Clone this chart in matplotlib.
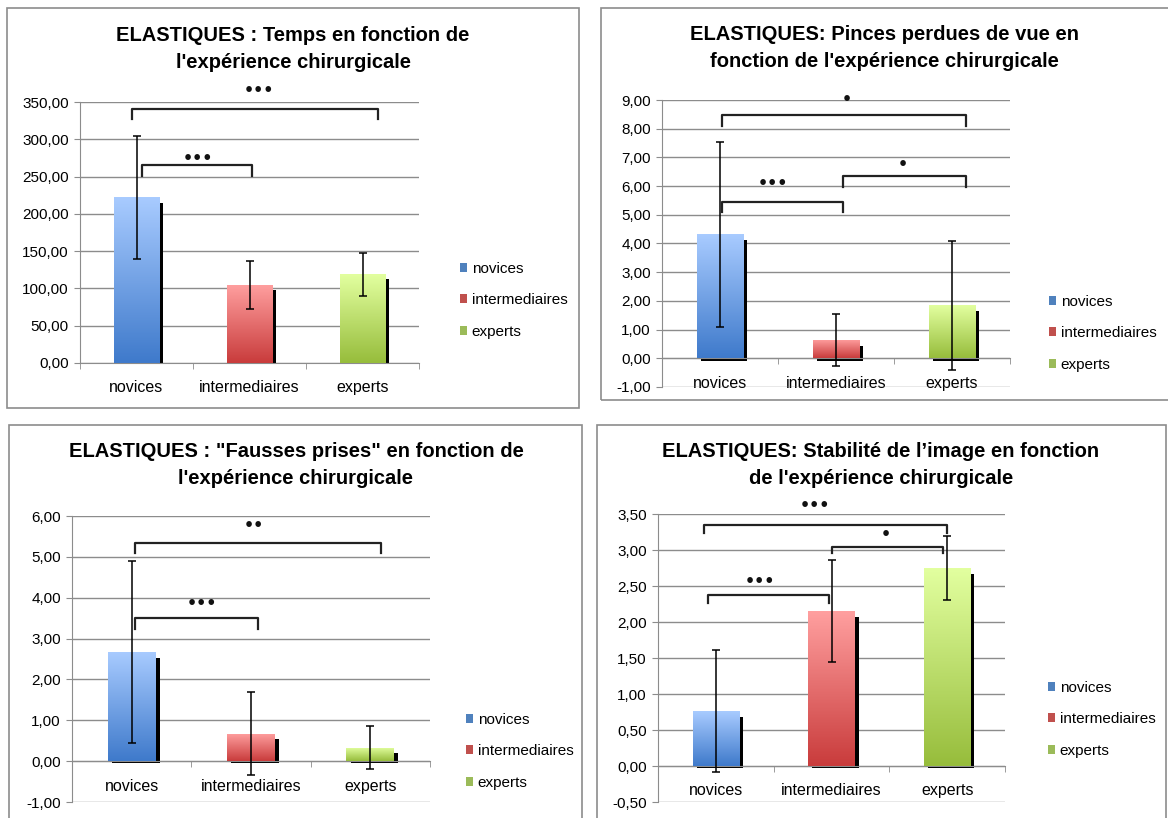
import numpy as np
import matplotlib
matplotlib.use("Agg")
import matplotlib.pyplot as plt
from matplotlib.patches import Rectangle, Patch
from matplotlib.colors import LinearSegmentedColormap
from matplotlib.ticker import FuncFormatter

plt.rcParams['font.family'] = ['Liberation Sans', 'DejaVu Sans']

categories = ["novices", "intermediaires", "experts"]

titles = [
    "ELASTIQUES : Temps en fonction de\nl'expérience chirurgicale",
    "ELASTIQUES: Pinces perdues de vue en\nfonction de l'expérience chirurgicale",
    "ELASTIQUES : \"Fausses prises\" en fonction de\nl'expérience chirurgicale",
    "ELASTIQUES: Stabilité de l\u2019image en fonction\nde l'expérience chirurgicale",
]

temps_mean = [222, 105, 119]
temps_err = [82, 32, 29]
pinces_mean = [4.32, 0.63, 1.84]
pinces_err = [3.22, 0.9, 2.25]
fausses_mean = [2.67, 0.67, 0.33]
fausses_err = [2.22, 1.02, 0.52]
stab_mean = [0.76, 2.15, 2.75]
stab_err = [0.85, 0.71, 0.44]

# significance brackets: (x_left, x_right, tip, top, stars, star_x, star_y)
temps_sig = [(-0.04, 2.14, 327, 340, "•••", 1.08, 366),
             (0.05, 1.02, 251, 266, "•••", 0.54, 274)]
pinces_sig = [(0.02, 2.12, 8.1, 8.48, "•", 1.09, 9.03),
              (0.02, 1.06, 5.1, 5.45, "•••", 0.46, 6.1),
              (1.06, 2.12, 5.97, 6.35, "•", 1.58, 6.74)]
fausses_sig = [(0.03, 2.09, 5.1, 5.34, "••", 1.02, 5.76),
               (0.03, 1.06, 3.24, 3.5, "•••", 0.59, 3.87)]
stab_sig = [(-0.1, 2.0, 3.23, 3.35, "•••", 0.86, 3.62),
            (1.0, 1.96, 2.96, 3.04, "•", 1.47, 3.22),
            (-0.07, 0.98, 2.26, 2.38, "•••", 0.38, 2.56)]

grads = [("#3f7acb", "#a8cbff"), ("#c93c3c", "#ff9f9f"), ("#97bd3c", "#e2ff9f")]
legend_cols = ["#4f81bd", "#c0504d", "#9bbb59"]

px = 1 / 100
fig = plt.figure(figsize=(1168 * px, 818 * px), dpi=100)
W, H = 1168, 818

def fpos(l, r, t, b):
    return [l / W, 1 - b / H, (r - l) / W, (b - t) / H]

panels = [
    dict(ax=fpos(80, 419, 102, 363), ylim=(0, 350), step=50, mean=temps_mean, err=temps_err,
         sig=temps_sig, frame=(7, 8, 579, 408), title_x=293, title_y=26, leg=(452, 254)),
    dict(ax=fpos(662, 1010, 100, 387), ylim=(-1, 9), step=1, mean=pinces_mean, err=pinces_err,
         sig=pinces_sig, frame=(601, 8, 1175, 400), title_x=884, title_y=25, leg=(1041, 287)),
    dict(ax=fpos(72, 430, 516, 802), ylim=(-1, 6), step=1, mean=fausses_mean, err=fausses_err,
         sig=fausses_sig, frame=(9, 425, 582, 830), title_x=296, title_y=442, leg=(458, 705)),
    dict(ax=fpos(658, 1005, 514, 802), ylim=(-0.5, 3.5), step=0.5, mean=stab_mean, err=stab_err,
         sig=stab_sig, frame=(597, 425, 1166, 830), title_x=881, title_y=442, leg=(1040, 673)),
]

for p, title in zip(panels, titles):
    x0, y0, x1, y1 = p["frame"]
    fig.add_artist(Rectangle((x0 / W, 1 - y1 / H), (x1 - x0) / W, (y1 - y0) / H,
                             transform=fig.transFigure, fill=False, ec="#8c8c8c", lw=1.2))
    fig.text(p["title_x"] / W, 1 - p["title_y"] / H, title, ha="center", va="top",
             fontsize=14.5, fontweight="bold", linespacing=1.55)

    ax = fig.add_axes(p["ax"])
    lo, hi = p["ylim"]
    rng = hi - lo
    xs = np.arange(3)
    w = 0.4
    # shadows
    for x, v in zip(xs, p["mean"]):
        ax.add_patch(Rectangle((x - w / 2 + 0.035, -0.008 * rng), w, v - 0.012 * rng,
                               fc="black", ec="none", zorder=2))
    bars = ax.bar(xs, p["mean"], w, color="none", zorder=3)
    for b, (c0, c1) in zip(bars, grads):
        cmap = LinearSegmentedColormap.from_list("g", [c0, c1])
        grad = np.linspace(0, 1, 100).reshape(-1, 1)
        bx, by = b.get_x(), b.get_y()
        im = ax.imshow(grad, extent=(bx, bx + b.get_width(), by, by + b.get_height()),
                       origin="lower", cmap=cmap, aspect="auto", zorder=3)
        im.set_clip_path(b)
    ax.errorbar(xs, p["mean"], yerr=p["err"], fmt="none", ecolor="black", elinewidth=1.1,
                capsize=3, capthick=1.1, zorder=4)

    for xl, xr, tip, top, stars, sx, sy in p["sig"]:
        ax.plot([xl, xl, xr, xr], [tip, top, top, tip], color="#222222", lw=1.6,
                clip_on=False, zorder=5)
        ax.text(sx, sy, stars, ha="center", va="center", fontsize=11.5, fontweight="bold",
                clip_on=False, family=["DejaVu Sans"], color="#111111")

    ax.set_xlim(-0.5, 2.5)
    ax.set_ylim(lo, hi)
    ax.set_yticks(np.arange(lo, hi + p["step"] / 2, p["step"]))
    ax.yaxis.set_major_formatter(FuncFormatter(lambda v, pos: f"{v:.2f}".replace(".", ",")))
    ax.grid(axis="y", color="#8c8c8c", lw=1.0, zorder=0)
    ax.set_axisbelow(True)
    for s in ["top", "right"]:
        ax.spines[s].set_visible(False)
    ax.spines["left"].set_color("#8c8c8c")
    ax.spines["bottom"].set_color("#8c8c8c")
    ax.spines["bottom"].set_position(("data", 0))
    ax.set_xticks(xs)
    ax.set_xticklabels(categories, fontsize=11.5)
    ax.set_xticks([-0.5, 0.5, 1.5, 2.5], minor=True)
    ax.tick_params(axis="x", which="major", length=0, pad=12.5)
    ax.tick_params(axis="x", which="minor", length=4, color="#8c8c8c", direction="out")
    ax.tick_params(axis="y", length=4, color="#8c8c8c", labelsize=11, pad=4)
    ax.set_facecolor("none")

    lx, ly = p["leg"]
    handles = [Patch(fc=c, ec="none") for c in legend_cols]
    fig.legend(handles, categories, loc="upper left", bbox_to_anchor=(lx / W, 1 - ly / H),
               frameon=False, fontsize=11, handlelength=0.5, handleheight=0.5,
               handletextpad=0.3, labelspacing=1.15, borderpad=0)

fig.savefig("out.png", dpi=100)
